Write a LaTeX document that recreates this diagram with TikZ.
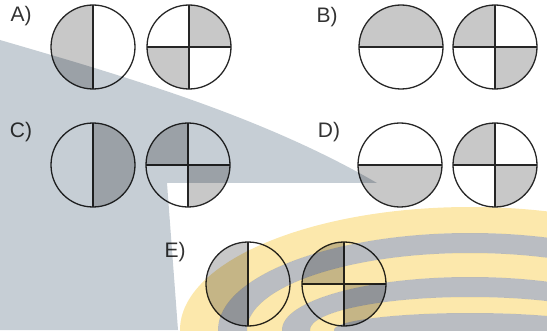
\documentclass[tikz,border=0pt]{standalone}
\usepackage{fontspec}
\setmainfont{Liberation Sans}
\usepackage{tikz}

\definecolor{shadegrey}{HTML}{C8C8C8}
\definecolor{markgrey}{HTML}{C6CED5}
\definecolor{bandyellow}{HTML}{FCE8AC}
\definecolor{bandgrey}{HTML}{BABDC2}

\begin{document}
\begin{tikzpicture}[x=1pt,y=1pt,
    disc/.style={line width=1.3pt,draw=black!85},
    shade/.style={fill=shadegrey},
    opt/.style={font=\fontsize{21}{24}\selectfont,text=black!80}]
  \useasboundingbox (0,0) rectangle (547,330);
  % centres of the discs
  \coordinate (a1) at (93,283);  \coordinate (a2) at (189,283);
  \coordinate (b1) at (401,283); \coordinate (b2) at (495,283);
  \coordinate (c1) at (93,165);  \coordinate (c2) at (188,165);
  \coordinate (d1) at (400,165); \coordinate (d2) at (495,165);
  \coordinate (e1) at (248,46);  \coordinate (e2) at (344,46);
  % option labels
  \node[opt] (labA) at (21,314) {A)};
  \node[opt] (labB) at (327,313) {B)};
  \node[opt] (labC) at (21,198) {C)};
  \node[opt] (labD) at (329,198) {D)};
  \node[opt] (labE) at (175,78) {E)};
  % A
  \fill[shade] (a1) -- ++(90:42) arc[start angle=90,end angle=270,radius=42] -- cycle;
  \fill[shade] (a2) -- ++(0:42) arc[start angle=0,end angle=90,radius=42] -- cycle;
  \fill[shade] (a2) -- ++(180:42) arc[start angle=180,end angle=270,radius=42] -- cycle;
  % B
  \fill[shade] (b1) -- ++(0:42) arc[start angle=0,end angle=180,radius=42] -- cycle;
  \fill[shade] (b2) -- ++(90:42) arc[start angle=90,end angle=180,radius=42] -- cycle;
  \fill[shade] (b2) -- ++(270:42) arc[start angle=270,end angle=360,radius=42] -- cycle;
  % C
  \fill[shade] (c1) -- ++(-90:42) arc[start angle=-90,end angle=90,radius=42] -- cycle;
  \fill[shade] (c2) -- ++(90:42) arc[start angle=90,end angle=180,radius=42] -- cycle;
  \fill[shade] (c2) -- ++(270:42) arc[start angle=270,end angle=360,radius=42] -- cycle;
  % D
  \fill[shade] (d1) -- ++(180:42) arc[start angle=180,end angle=360,radius=42] -- cycle;
  \fill[shade] (d2) -- ++(90:42) arc[start angle=90,end angle=180,radius=42] -- cycle;
  \fill[shade] (d2) -- ++(270:42) arc[start angle=270,end angle=360,radius=42] -- cycle;
  % E
  \fill[shade] (e1) -- ++(90:42) arc[start angle=90,end angle=270,radius=42] -- cycle;
  \fill[shade] (e2) -- ++(90:42) arc[start angle=90,end angle=180,radius=42] -- cycle;
  \fill[shade] (e2) -- ++(270:42) arc[start angle=270,end angle=360,radius=42] -- cycle;
  % outlines and dividing lines
  \foreach \c in {a1,c1,e1} {
    \draw[disc] (\c) circle[radius=42];
    \draw[disc] ([yshift=42pt]\c) -- ([yshift=-42pt]\c);
  }
  \foreach \c in {b1,d1} {
    \draw[disc] (\c) circle[radius=42];
    \draw[disc] ([xshift=-42pt]\c) -- ([xshift=42pt]\c);
  }
  \foreach \c in {a2,b2,c2,d2,e2} {
    \draw[disc] (\c) circle[radius=42];
    \draw[disc] ([yshift=42pt]\c) -- ([yshift=-42pt]\c);
    \draw[disc] ([xshift=-42pt]\c) -- ([xshift=42pt]\c);
  }
  % watermark over the scan
  \begin{scope}[blend mode=multiply]
    \clip (0,0) rectangle (547,330);
    \fill[markgrey] (0,290) .. controls (120,255) and (260,215) .. (377,147)
      -- (167,147) -- (178,0) -- (0,0) -- cycle;
    \coordinate (rc) at (470,0);
    \fill[bandyellow,even odd rule] (rc) ellipse[x radius=290,y radius=123]
      (rc) ellipse[x radius=252,y radius=97];
    \fill[bandgrey,even odd rule] (rc) ellipse[x radius=252,y radius=97]
      (rc) ellipse[x radius=223,y radius=77];
    \fill[bandyellow,even odd rule] (rc) ellipse[x radius=223,y radius=77]
      (rc) ellipse[x radius=188,y radius=53];
    \fill[bandgrey,even odd rule] (rc) ellipse[x radius=188,y radius=53]
      (rc) ellipse[x radius=160,y radius=33];
    \fill[bandyellow,even odd rule] (rc) ellipse[x radius=160,y radius=33]
      (rc) ellipse[x radius=136,y radius=17];
    \fill[bandgrey] (rc) ellipse[x radius=136,y radius=17];
  \end{scope}
\end{tikzpicture}
\end{document}
